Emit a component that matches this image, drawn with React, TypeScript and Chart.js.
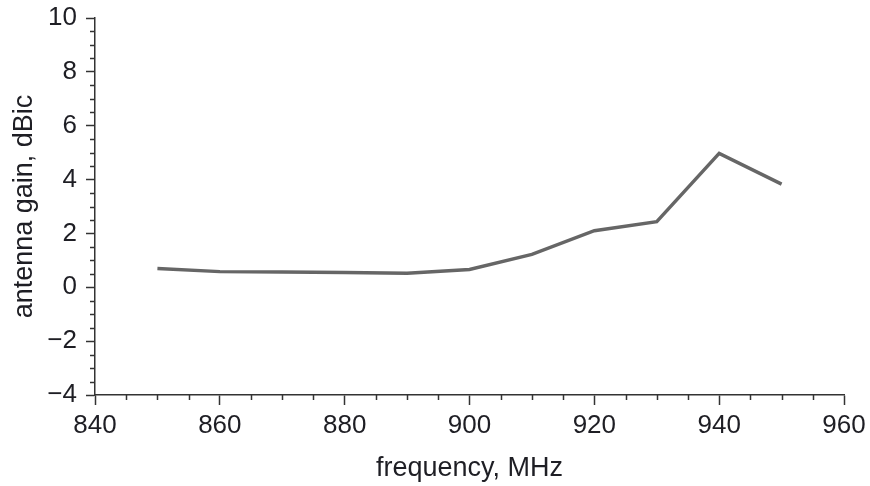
import React, { useEffect, useRef } from "react";
import { Chart, registerables } from "chart.js";

Chart.register(...registerables);

const frequencies = [850, 860, 870, 880, 890, 900, 910, 920, 930, 940, 950];
const gains = [0.7, 0.58, 0.57, 0.55, 0.52, 0.66, 1.22, 2.1, 2.44, 4.97, 3.83];

const xTitle = "frequency, MHz";
const yTitle = "antenna gain, dBic";

const FONT = "'Liberation Sans', Arial, Helvetica, sans-serif";
const AXIS_COLOR = "#333333";
const TEXT_COLOR = "#1e1e24";

const minorTicks = {
  id: "minorTicks",
  afterDraw(chart: any) {
    const ctx = chart.ctx;
    const area = chart.chartArea;
    ctx.save();
    ctx.strokeStyle = AXIS_COLOR;
    ctx.lineWidth = 1.5;
    const xs = chart.scales.x;
    for (let v = xs.min; v <= xs.max + 1e-9; v += 5) {
      if (Math.abs(v % 20) < 1e-9) continue;
      const px = Math.round(xs.getPixelForValue(v)) + 0.5;
      ctx.beginPath();
      ctx.moveTo(px, area.bottom);
      ctx.lineTo(px, area.bottom + 5);
      ctx.stroke();
    }
    const ys = chart.scales.y;
    for (let v = ys.min; v <= ys.max + 1e-9; v += 0.5) {
      if (Math.abs(v % 2) < 1e-9) continue;
      const py = Math.round(ys.getPixelForValue(v)) + 0.5;
      ctx.beginPath();
      ctx.moveTo(area.left, py);
      ctx.lineTo(area.left - 5, py);
      ctx.stroke();
    }
    ctx.restore();
  },
};

export default function App() {
  const ref = useRef<HTMLCanvasElement>(null);
  useEffect(() => {
    const chart = new Chart(ref.current as HTMLCanvasElement, {
      type: "line",
      data: {
        datasets: [
          {
            data: frequencies.map((f, i) => ({ x: f, y: gains[i] })),
            borderColor: "#666666",
            borderWidth: 3.4,
            pointRadius: 0,
            tension: 0,
            fill: false,
          },
        ],
      },
      options: {
        animation: false,
        responsive: false,
        layout: { padding: { top: 18, right: 26, left: 0, bottom: 0 } },
        plugins: { legend: { display: false }, tooltip: { enabled: false } },
        scales: {
          x: {
            type: "linear",
            min: 840,
            max: 960,
            afterFit: (s: any) => {
              s.height = 91;
              s.paddingLeft = 0;
              s.paddingRight = 0;
            },
            ticks: {
              stepSize: 20,
              padding: 5,
              color: TEXT_COLOR,
              font: { family: FONT, size: 26 },
              maxRotation: 0,
            },
            grid: {
              drawOnChartArea: false,
              drawTicks: true,
              tickLength: 10,
              tickColor: AXIS_COLOR,
              tickWidth: 1.5,
            },
            border: { display: true, color: AXIS_COLOR, width: 1.5 },
            title: {
              display: true,
              text: xTitle,
              color: TEXT_COLOR,
              font: { family: FONT, size: 27 },
              padding: { top: 0, bottom: 1 },
            },
          },
          y: {
            type: "linear",
            min: -4,
            max: 10,
            afterFit: (s: any) => {
              s.width = 95;
              s.paddingTop = 0;
              s.paddingBottom = 0;
            },
            ticks: {
              stepSize: 2,
              padding: 9,
              color: TEXT_COLOR,
              font: { family: FONT, size: 26 },
              callback: (v: any) => String(v).replace("-", "\u2212"),
            },
            grid: {
              drawOnChartArea: false,
              drawTicks: true,
              tickLength: 9,
              tickColor: AXIS_COLOR,
              tickWidth: 1.5,
            },
            border: { display: true, color: AXIS_COLOR, width: 1.5 },
            title: {
              display: true,
              text: yTitle,
              color: TEXT_COLOR,
              font: { family: FONT, size: 27 },
              padding: { top: 8, bottom: 0 },
            },
          },
        },
      },
      plugins: [minorTicks],
    });
    return () => chart.destroy();
  }, []);
  return (
    <div style={{ position: "absolute", left: 0, top: 0, width: 870, height: 486, background: "#fff" }}>
      <canvas ref={ref} width={870} height={486} />
    </div>
  );
}
